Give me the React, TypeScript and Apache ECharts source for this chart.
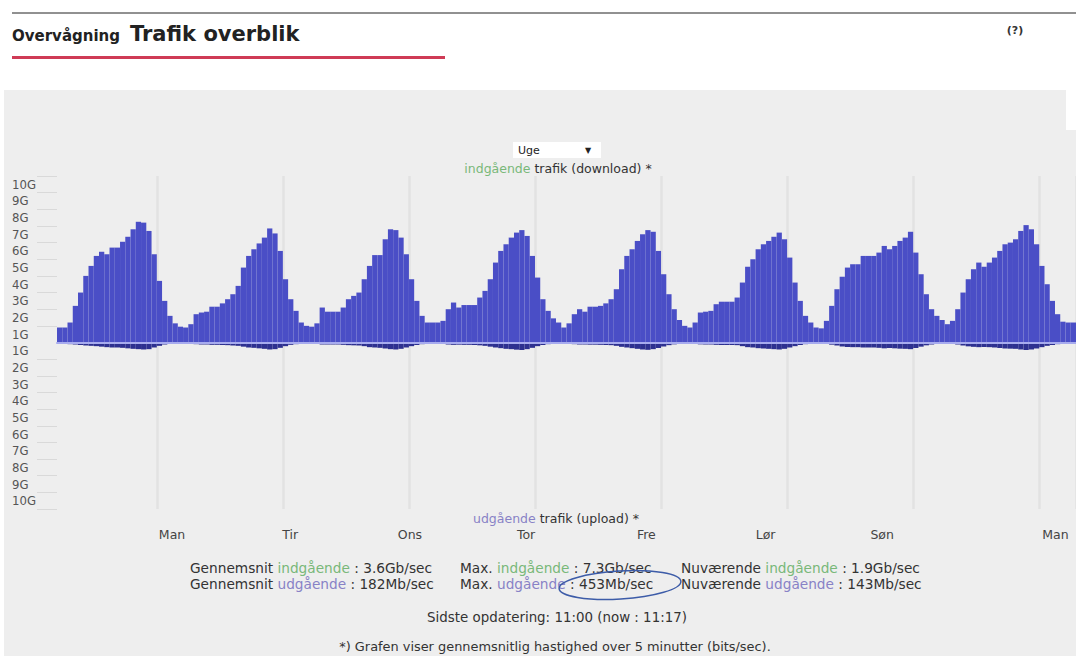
import React, { useEffect, useRef } from 'react';
import * as echarts from 'echarts';

// Hourly average download (Gb/s), starting Sunday 05:00
const download = [
  0.9, 0.9, 1.2, 2.2, 3.0, 4.0, 4.6, 5.2, 5.45, 5.3,
  5.7, 5.7, 6.05, 6.35, 6.8, 7.25, 7.2, 6.7, 5.3, 3.7,
  2.5, 1.6, 1.15, 0.95, 0.9, 1.1, 1.7, 1.8, 1.85, 2.15,
  2.15, 2.35, 2.6, 2.9, 3.4, 4.5, 5.2, 5.6, 5.95, 6.3,
  6.85, 6.55, 5.5, 3.8, 2.6, 1.9, 1.2, 1.0, 0.95, 1.15,
  2.1, 1.85, 1.85, 1.85, 2.1, 2.6, 2.8, 3.0, 3.8, 4.6,
  5.25, 5.25, 6.2, 6.8, 6.75, 6.3, 5.3, 3.8, 2.5, 1.6,
  1.2, 1.2, 1.2, 1.3, 2.0, 2.4, 2.1, 2.25, 2.25, 2.25,
  2.7, 3.1, 3.8, 4.8, 5.5, 5.9, 6.3, 6.6, 6.75, 6.4,
  5.2, 3.9, 2.6, 1.9, 1.45, 1.2, 0.9, 1.15, 1.7, 2.0,
  1.85, 2.15, 2.15, 2.2, 2.35, 2.6, 3.2, 4.4, 5.2, 5.6,
  6.1, 6.5, 6.75, 6.65, 5.5, 4.1, 2.9, 2.0, 1.35, 1.0,
  0.9, 1.2, 1.8, 1.85, 1.9, 2.3, 2.45, 2.45, 2.45, 2.7,
  3.6, 4.55, 5.0, 5.6, 5.9, 6.1, 6.35, 6.6, 6.2, 5.1,
  3.6, 2.5, 1.6, 1.2, 0.9, 0.85, 1.3, 2.2, 3.2, 3.95,
  4.5, 4.7, 4.7, 5.2, 5.2, 5.2, 5.4, 5.8, 5.6, 5.8,
  6.1, 6.3, 6.65, 5.4, 4.1, 2.9, 2.0, 1.6, 1.35, 1.1,
  1.3, 2.0, 3.0, 3.8, 4.4, 4.8, 4.55, 4.8, 5.1, 5.5,
  5.9, 6.0, 6.2, 6.7, 7.05, 6.8, 5.9, 4.6, 3.5, 2.5,
  1.7, 1.25, 1.2, 1.2,
];

// Hourly average upload (Gb/s), drawn downward
const upload = [
  0.08, 0.08, 0.1, 0.12, 0.15, 0.18, 0.2, 0.22, 0.25, 0.28,
  0.3, 0.3, 0.32, 0.35, 0.38, 0.4, 0.42, 0.4, 0.3, 0.2,
  0.12, 0.08, 0.06, 0.05, 0.05, 0.06, 0.1, 0.12, 0.12, 0.14,
  0.14, 0.15, 0.16, 0.18, 0.2, 0.25, 0.3, 0.32, 0.35, 0.38,
  0.42, 0.4, 0.32, 0.22, 0.14, 0.1, 0.07, 0.06, 0.05, 0.06,
  0.12, 0.12, 0.12, 0.12, 0.14, 0.16, 0.17, 0.18, 0.22, 0.28,
  0.3, 0.32, 0.36, 0.4, 0.42, 0.38, 0.3, 0.22, 0.15, 0.1,
  0.07, 0.06, 0.06, 0.07, 0.12, 0.14, 0.13, 0.14, 0.14, 0.15,
  0.17, 0.2, 0.25, 0.3, 0.34, 0.38, 0.4, 0.43, 0.45, 0.4,
  0.32, 0.22, 0.15, 0.1, 0.08, 0.06, 0.05, 0.06, 0.1, 0.12,
  0.12, 0.13, 0.13, 0.14, 0.15, 0.16, 0.2, 0.26, 0.3, 0.34,
  0.38, 0.42, 0.44, 0.4, 0.33, 0.24, 0.16, 0.11, 0.08, 0.06,
  0.05, 0.07, 0.11, 0.12, 0.12, 0.14, 0.15, 0.15, 0.15, 0.16,
  0.22, 0.28, 0.3, 0.34, 0.36, 0.38, 0.4, 0.42, 0.38, 0.3,
  0.22, 0.15, 0.1, 0.07, 0.05, 0.05, 0.08, 0.13, 0.18, 0.24,
  0.27, 0.28, 0.28, 0.3, 0.3, 0.3, 0.32, 0.35, 0.33, 0.35,
  0.37, 0.38, 0.4, 0.33, 0.25, 0.17, 0.12, 0.09, 0.08, 0.06,
  0.08, 0.12, 0.18, 0.23, 0.26, 0.28, 0.27, 0.28, 0.3, 0.33,
  0.36, 0.37, 0.38, 0.42, 0.45, 0.42, 0.36, 0.28, 0.2, 0.15,
  0.1, 0.08, 0.07, 0.07,
];

const hourSlots = download.map((_, i) => String(i));
const firstMidnight = 19;
const hoursPerDay = 24;

const dayLabels = ['Man', 'Tir', 'Ons', 'Tor', 'Fre', 'Lør', 'Søn', 'Man'];
const dayLabelHours = [21.9, 44.4, 67.2, 89.3, 112.2, 134.9, 157.1, 190.1];

const yLabels = ['1G', '2G', '3G', '4G', '5G', '6G', '7G', '8G', '9G', '10G'];
const yTickValues = [-10, -9, -8, -7, -6, -5, -4, -3, -2, -1, 1, 2, 3, 4, 5, 6, 7, 8, 9, 10];
const yLabelValues = [-9.5, -8.5, -7.5, -6.5, -5.5, -4.5, -3.5, -2.5, -1.5, -0.5, 0.5, 1.5, 2.5, 3.5, 4.5, 5.5, 6.5, 7.5, 8.5, 9.5];

const statKinds = ['Gennemsnit', 'Max.', 'Nuværende'];
const statsIn = ['3.6Gb/sec', '7.3Gb/sec', '1.9Gb/sec'];
const statsOut = ['182Mb/sec', '453Mb/sec', '143Mb/sec'];

const GREEN = '#79b879';
const LAV = '#8882c6';
const TXT = '#333333';
const FONT = '"DejaVu Sans", Verdana, sans-serif';
const SF = '13.7px';

export default function App() {
  const ref = useRef<HTMLDivElement>(null);

  useEffect(() => {
    if (!ref.current) return;
    const chart = echarts.init(ref.current, undefined, { renderer: 'svg' });

    const statCols = [190, 460, 681];
    const statTexts: any[] = [];
    statKinds.forEach((k, i) => {
      statTexts.push({
        type: 'text', x: statCols[i], y: 568, z: 10,
        style: {
          text: `${k} {g|indgående} : ${statsIn[i]}`,
          rich: { g: { fill: GREEN, font: `${SF} ${FONT}` } },
          font: `${SF} ${FONT}`, fill: TXT, textVerticalAlign: 'middle',
        },
      });
      statTexts.push({
        type: 'text', x: statCols[i], y: 584, z: 10,
        style: {
          text: `${k} {l|udgående} : ${statsOut[i]}`,
          rich: { l: { fill: LAV, font: `${SF} ${FONT}` } },
          font: `${SF} ${FONT}`, fill: TXT, textVerticalAlign: 'middle',
        },
      });
    });

    const option: any = {
      animation: false,
      backgroundColor: '#ffffff',
      grid: { left: 57, right: 0, top: 176, bottom: 147, containLabel: false },
      xAxis: [
        {
          type: 'category',
          data: hourSlots,
          boundaryGap: true,
          axisLine: { show: false, onZero: false },
          axisTick: { show: false },
          axisLabel: { show: false },
          splitLine: {
            show: true,
            interval: (index: number) => index >= firstMidnight && (index - firstMidnight) % hoursPerDay === 0,
            lineStyle: { color: '#e2e2e2', width: 2.5 },
          },
        },
        {
          type: 'value',
          min: 0,
          max: hourSlots.length,
          position: 'bottom',
          axisLine: { show: false, onZero: false },
          axisTick: { show: false },
          splitLine: { show: false },
          axisLabel: {
            customValues: dayLabelHours,
            margin: 19,
            color: '#444',
            fontFamily: FONT,
            fontSize: 12.5,
            formatter: (v: number) => {
              const i = dayLabelHours.findIndex((h) => Math.abs(h - v) < 0.01);
              return i >= 0 ? dayLabels[i] : '';
            },
          },
        },
        {
          type: 'category',
          data: hourSlots,
          position: 'bottom',
          z: 5,
          axisLine: { show: true, onZero: true, lineStyle: { color: '#a7abee', width: 2 } },
          axisTick: { show: false },
          axisLabel: { show: false },
          splitLine: { show: false },
        },
      ],
      yAxis: {
        type: 'value',
        min: -10,
        max: 10,
        interval: 1,
        axisLine: { show: false, onZero: false },
        splitLine: { show: false },
        axisTick: {
          show: true,
          customValues: yTickValues,
          length: 20,
          lineStyle: { color: '#d9d9d9', width: 1 },
        },
        axisLabel: {
          customValues: yLabelValues,
          align: 'left',
          margin: 45,
          color: '#555',
          fontFamily: '"DejaVu Sans Condensed", "DejaVu Sans", sans-serif',
          fontSize: 13,
          formatter: (v: number) => yLabels[Math.floor(Math.abs(v))],
        },
      },
      series: [
        {
          name: 'indgående',
          type: 'bar',
          xAxisIndex: 0,
          data: download,
          barCategoryGap: '0%',
          barGap: '-100%',
          itemStyle: { color: '#4a4ec6' },
          z: 2,
        },
        {
          name: 'udgående',
          type: 'bar',
          xAxisIndex: 0,
          data: upload.map((v) => -v),
          barCategoryGap: '0%',
          barGap: '-100%',
          itemStyle: { color: '#2d3090' },
          z: 2,
        },
      ],
      graphic: [
        { type: 'rect', z: -10, shape: { x: 4, y: 90, width: 1072, height: 566 }, style: { fill: '#eeeeee' } },
        { type: 'rect', z: -9, shape: { x: 1066, y: 90, width: 10, height: 40 }, style: { fill: '#ffffff' } },
        { type: 'line', z: 10, shape: { x1: 12, y1: 13, x2: 1076, y2: 13 }, style: { stroke: '#222', lineWidth: 1 } },
        {
          type: 'text', x: 12, y: 43, z: 10,
          style: { text: 'Overvågning', font: `bold 15px ${FONT}`, fill: '#222', textVerticalAlign: 'bottom' },
        },
        {
          type: 'text', x: 130, y: 44, z: 10,
          style: { text: 'Trafik overblik', font: `bold 21px ${FONT}`, fill: '#222', textVerticalAlign: 'bottom' },
        },
        { type: 'rect', z: 10, shape: { x: 12, y: 56, width: 433, height: 3 }, style: { fill: '#cf3b56' } },
        {
          type: 'text', x: 1015, y: 30, z: 10,
          style: { text: '(?)', font: `bold 11px ${FONT}`, fill: '#333', textAlign: 'center', textVerticalAlign: 'middle' },
        },
        { type: 'rect', z: 10, shape: { x: 513, y: 142, width: 88, height: 16 }, style: { fill: '#ffffff' } },
        {
          type: 'text', x: 518, y: 150, z: 11,
          style: { text: 'Uge', font: `11px ${FONT}`, fill: '#222', textVerticalAlign: 'middle' },
        },
        {
          type: 'text', x: 588, y: 150, z: 11,
          style: { text: '▼', font: `8px ${FONT}`, fill: '#222', textAlign: 'center', textVerticalAlign: 'middle' },
        },
        {
          type: 'text', x: 558, y: 168, z: 10,
          style: {
            text: '{g|indgående} trafik (download) *',
            rich: { g: { fill: GREEN, font: `12.5px ${FONT}` } },
            font: `12.5px ${FONT}`, fill: TXT, textAlign: 'center', textVerticalAlign: 'middle',
          },
        },
        {
          type: 'text', x: 556, y: 518, z: 10,
          style: {
            text: '{l|udgående} trafik (upload) *',
            rich: { l: { fill: LAV, font: `12.5px ${FONT}` } },
            font: `12.5px ${FONT}`, fill: TXT, textAlign: 'center', textVerticalAlign: 'middle',
          },
        },
        ...statTexts,
        {
          type: 'ellipse', z: 12, rotation: 0.06,
          x: 620, y: 585,
          shape: { cx: 0, cy: 0, rx: 61, ry: 14 },
          style: { fill: 'none', stroke: '#3d5ca8', lineWidth: 1.5 },
        },
        {
          type: 'text', x: 557, y: 617, z: 10,
          style: { text: 'Sidste opdatering: 11:00 (now : 11:17)', font: `13.4px ${FONT}`, fill: TXT, textAlign: 'center', textVerticalAlign: 'middle' },
        },
        {
          type: 'text', x: 555, y: 646, z: 10,
          style: { text: '*) Grafen viser gennemsnitlig hastighed over 5 minutter (bits/sec).', font: `12.9px ${FONT}`, fill: TXT, textAlign: 'center', textVerticalAlign: 'middle' },
        },
      ],
    };

    chart.setOption(option);
    return () => chart.dispose();
  }, []);

  return (
    <div
      ref={ref}
      style={{ position: 'absolute', left: 0, top: 0, width: 1076, height: 656 }}
    />
  );
}
